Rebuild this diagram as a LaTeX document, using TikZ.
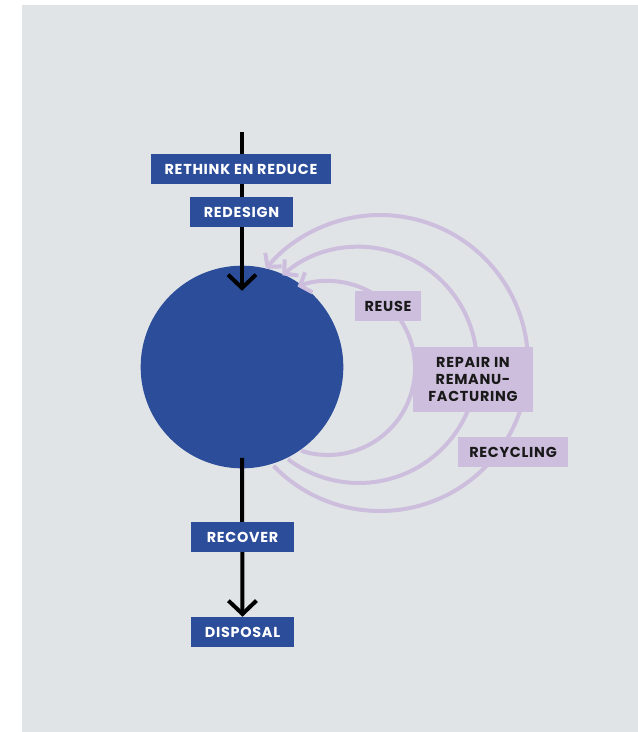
\documentclass[tikz,border=0pt]{standalone}
\usepackage{fontspec}
\setmainfont{Poppins}
\newfontfamily\labelfamily{Poppins}[LetterSpace=5]
\usetikzlibrary{arrows.meta}
\definecolor{panelgrey}{RGB}{224,228,231}
\definecolor{deepblue}{RGB}{44,77,154}
\definecolor{lilac}{RGB}{205,190,222}

\begin{document}
\begin{tikzpicture}[x=0.75pt,y=-0.75pt,
  boxfont/.style={font=\labelfamily\bfseries\fontsize{10.8}{12.6}\selectfont},
  bluebox/.style={boxfont,fill=deepblue,text=white,minimum width=77pt,minimum height=22.5pt,inner sep=0pt},
  lilacbox/.style={boxfont,fill=lilac,text=black!90,minimum height=22.5pt,inner sep=0pt,align=center},
  flow/.style={line width=3pt,-{Straight Barb[length=10pt,width=21pt]}},
  returnarc/.style={draw=lilac,line width=3pt,-{Straight Barb[length=7pt,width=16pt]}}]
\useasboundingbox (0,0) rectangle (638,732);
\fill[panelgrey] (22,5) rectangle (638,732);
% product cycle
\node[circle,fill=deepblue,minimum size=152pt,inner sep=0pt] (cycle) at (242,367) {};
\node[bluebox] (disposal) at (242.5,632) {DISPOSAL};
\coordinate (source) at (242,132);
\draw[flow] (source) -- ([yshift=-19pt]cycle.north);
\draw[flow] ([yshift=8pt]cycle.south) -- (disposal.north);
% return loops
\coordinate (reuse c) at (328,368);
\coordinate (repair c) at (359,365);
\coordinate (recycle c) at (380,363);
\draw[returnarc] ([shift={(108:87)}]reuse c) arc[start angle=108,end angle=-110.5,radius=87];
\draw[returnarc] ([shift={(127:118)}]repair c) arc[start angle=127,end angle=-130.5,radius=118];
\draw[returnarc] ([shift={(136:148)}]recycle c) arc[start angle=136,end angle=-140.5,radius=148];
% labels
\node[bluebox,minimum width=135pt] (rethink) at (241,169) {RETHINK EN REDUCE};
\node[bluebox] (redesign) at (241.5,212) {REDESIGN};
\node[bluebox] (recover) at (242.5,537) {RECOVER};
\node[lilacbox,minimum width=49.5pt] (reuse) at (388,306) {REUSE};
\node[lilacbox,minimum width=90pt,minimum height=49pt] (repair) at (473,379.5) {REPAIR IN\\REMANU-\\FACTURING};
\node[lilacbox,minimum width=82.5pt] (recycling) at (513,452) {RECYCLING};
\end{tikzpicture}
\end{document}
